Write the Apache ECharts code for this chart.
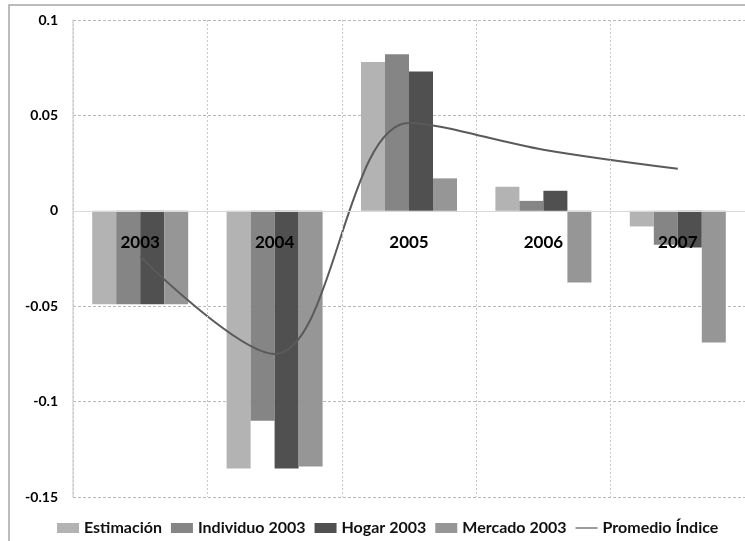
<!DOCTYPE html>
<html>
<head>
<meta charset="utf-8">
<script src="https://cdn.jsdelivr.net/npm/echarts@6/dist/echarts.min.js"></script>
<style>
  html, body { margin: 0; padding: 0; background: #fff; }
  #chart { width: 745px; height: 541px; }
</style>
</head>
<body>
<div id="chart"></div>
<script>
// Years on the category axis
const years = ['2003', '2004', '2005', '2006', '2007'];

// Bar series values
const estimacion = [-0.049, -0.135, 0.078, 0.0126, -0.0082];
const individuo2003 = [-0.049, -0.110, 0.082, 0.0052, -0.0178];
const hogar2003 = [-0.049, -0.135, 0.073, 0.0105, -0.0192];
const mercado2003 = [-0.049, -0.134, 0.017, -0.0376, -0.069];

// Smoothed average line
const promedioIndice = [-0.024, -0.075, 0.046, 0.032, 0.022];

// Value axis ticks
const yTicks = [-0.15, -0.1, -0.05, 0, 0.05, 0.1];

const FONT = 'Lato, "Liberation Sans", sans-serif';

const chart = echarts.init(document.getElementById('chart'), null, { renderer: 'canvas' });

function barSeries(name, data, color) {
  return {
    name: name,
    type: 'bar',
    data: data,
    barWidth: 24,
    barGap: '0%',
    itemStyle: { color: color },
    emphasis: { disabled: true }
  };
}

chart.setOption({
  animation: false,
  backgroundColor: '#ffffff',
  graphic: [{
    type: 'rect',
    shape: { x: 9, y: 5, width: 760, height: 560 },
    style: { fill: 'none', stroke: '#a6a6a6', lineWidth: 1.5 },
    silent: true,
    z: -1
  }],
  grid: { left: 73, right: -2, top: 20, bottom: 44, containLabel: false },
  legend: {
    left: 57,
    bottom: 5,
    padding: 0,
    itemWidth: 22,
    itemHeight: 10,
    itemGap: 9,
    textStyle: { fontFamily: FONT, fontSize: 16, fontWeight: 'bold', color: '#111' },
    data: [
      { name: 'Estimación', icon: 'rect' },
      { name: 'Individuo 2003', icon: 'rect' },
      { name: 'Hogar 2003', icon: 'rect' },
      { name: 'Mercado 2003', icon: 'rect' },
      { name: 'Promedio Índice', icon: 'path://M0,0 L22,0 L22,1.2 L0,1.2 Z' }
    ]
  },
  xAxis: {
    type: 'category',
    data: years,
    z: 10,
    axisLine: { onZero: true, lineStyle: { color: '#d9d9d9', width: 1 } },
    axisTick: { show: false },
    axisLabel: {
      // year labels sit just under the zero line, inside the plot
      margin: -263,
      fontFamily: FONT,
      fontSize: 17,
      fontWeight: 'bold',
      color: '#000'
    },
    splitLine: { show: true, lineStyle: { color: '#c8c8c8', type: [2, 2], width: 1 } }
  },
  yAxis: {
    type: 'value',
    min: yTicks[0],
    max: yTicks[yTicks.length - 1],
    interval: 0.05,
    axisLine: { show: true, lineStyle: { color: '#d9d9d9', width: 1.5 } },
    axisTick: { show: false },
    axisLabel: {
      margin: 15,
      fontFamily: FONT,
      fontSize: 14,
      fontWeight: 'bold',
      color: '#000',
      formatter: function (v) { return String(Math.round(v * 100) / 100); }
    },
    splitLine: { show: true, lineStyle: { color: '#b8b8b8', type: [3, 2], width: 1 } }
  },
  series: [
    barSeries('Estimación', estimacion, '#b3b3b3'),
    barSeries('Individuo 2003', individuo2003, '#858585'),
    barSeries('Hogar 2003', hogar2003, '#505050'),
    barSeries('Mercado 2003', mercado2003, '#969696'),
    {
      name: 'Promedio Índice',
      type: 'line',
      data: promedioIndice,
      smooth: 0.35,
      symbol: 'none',
      lineStyle: { color: '#5a5a5a', width: 2 },
      itemStyle: { color: '#5a5a5a' },
      z: 5
    }
  ]
});
</script>
</body>
</html>
